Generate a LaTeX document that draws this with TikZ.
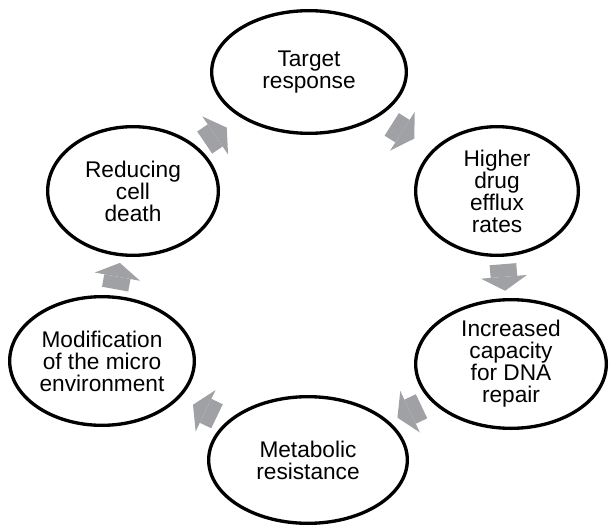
\documentclass[tikz,border=0pt]{standalone}
\usepackage{fontspec}
\setmainfont{Liberation Sans}
\usepackage{xcolor}
\usetikzlibrary{arrows.meta,calc,shapes.geometric}
\definecolor{arrgray}{RGB}{160,161,165}

\begin{document}
\begin{tikzpicture}[x=0.75pt,y=0.75pt,yscale=-1,xscale=1,
  cyclenode/.style={draw,ellipse,line width=2.5pt,fill=white,inner sep=0pt,align=center,font=\fontsize{17}{16.5}\selectfont},
  blockarrow/.style={arrgray,line width=20pt,-{Triangle[length=10.5pt,width=34.5pt,line width=0pt]}}]
%set diagram size
\path[use as bounding box] (0,0) rectangle (609,527);

%Shape: Ellipse [target]
\node[cyclenode,minimum width=146pt,minimum height=92pt] (target) at (309,72) {Target\\response};
%Shape: Ellipse [efflux]
\node[cyclenode,minimum width=122pt,minimum height=96.5pt] (efflux) at (497,191) {Higher\\drug\\efflux\\rates};
%Shape: Ellipse [repair]
\node[cyclenode,minimum width=143pt,minimum height=96.5pt] (repair) at (511,364) {Increased\\capacity\\for DNA\\repair};
%Shape: Ellipse [metab]
\node[cyclenode,minimum width=149pt,minimum height=95pt] (metab) at (308,460) {Metabolic\\resistance};
%Shape: Ellipse [micro]
\node[cyclenode,minimum width=138.5pt,minimum height=96.5pt] (micro) at (102,361) {Modification\\of the micro\\environment};
%Shape: Ellipse [death]
\node[cyclenode,minimum width=128pt,minimum height=96.5pt] (death) at (133,191) {Reducing\\cell\\death};

%Block Arrows
\draw[blockarrow] ($(target)!0.5!(efflux)!10pt!(target)$) -- ($(target)!0.5!(efflux)!10pt!(efflux)$);
\draw[blockarrow] ($(efflux)!0.5!(repair)!10pt!(efflux)$) -- ($(efflux)!0.5!(repair)!10pt!(repair)$);
\draw[blockarrow] ($(repair)!0.5!(metab)!10pt!(repair)$) -- ($(repair)!0.5!(metab)!10pt!(metab)$);
\draw[blockarrow] ($(metab)!0.5!(micro)!10pt!(metab)$) -- ($(metab)!0.5!(micro)!10pt!(micro)$);
\draw[blockarrow] ($(micro)!0.5!(death)!10pt!(micro)$) -- ($(micro)!0.5!(death)!10pt!(death)$);
\draw[blockarrow] ($(death)!0.47!(target)!10pt!(death)$) -- ($(death)!0.47!(target)!10pt!(target)$);

\end{tikzpicture}
\end{document}
